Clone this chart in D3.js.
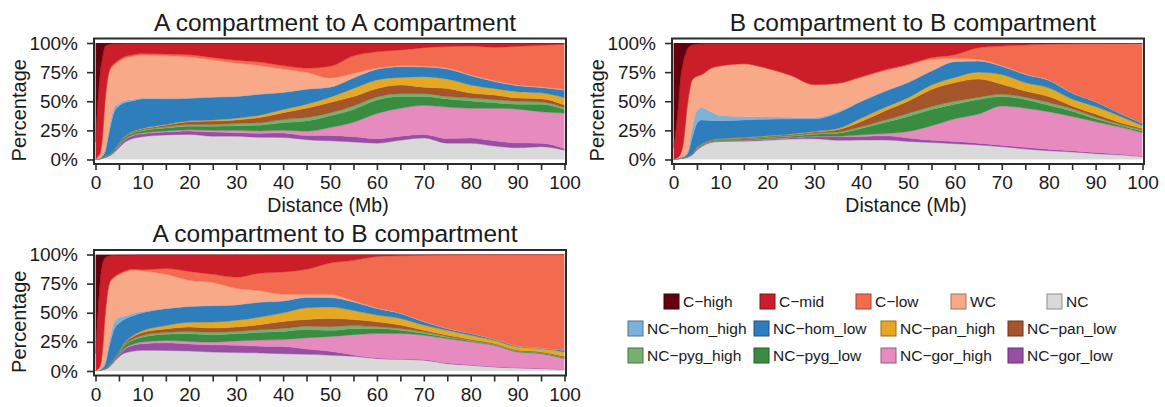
<!DOCTYPE html>
<html>
<head>
<meta charset="utf-8">
<script src="https://cdn.jsdelivr.net/npm/d3@7"></script>
<style>
body { margin: 0; background: #fff; }
svg text { font-family: "Liberation Sans", Arial, sans-serif; fill: #1a1a1a; }
</style>
</head>
<body>
<script>
// ================================
// DATA (percent of pairs in each class)
// ================================

// distance grid (Mb)
var distance = [0, 0.5, 1, 1.5, 2, 3, 4, 5, 6, 8, 10, 15, 20, 25, 30, 35, 40, 45, 50, 55, 60, 65, 70, 75, 80, 85, 90, 95, 100];

// stacking order, bottom to top
var categories = ["NC", "NC-gor_low", "NC-gor_high", "NC-pyg_low", "NC-pyg_high", "NC-pan_low",
    "NC-pan_high", "NC-hom_low", "NC-hom_high", "WC", "C-low", "C-mid", "C-high"];

var colors = ["#d9d9d9", "#984ea3", "#e68ac0", "#3a8d40", "#74b06f", "#a5552a",
    "#e5a823", "#2f7ebc", "#7cb1d9", "#f7a988", "#f26b4f", "#cb1e28", "#67000d"];

// legend layout order
var legendRows = [
    ["C-high", "C-mid", "C-low", "WC", "NC"],
    ["NC-hom_high", "NC-hom_low", "NC-pan_high", "NC-pan_low"],
    ["NC-pyg_high", "NC-pyg_low", "NC-gor_high", "NC-gor_low"]
];

// A compartment to A compartment (one row per category, same order as categories)
var aToA = [
    [0,.3,.5,1,1.5,3,6,10,14,18,19.5,21,21.5,20,20,19,18.8,17,16,15,14,16.5,18.5,14,14,11.6,10,11,8],
    [0,0,0,.2,.3,.5,1,1.5,2,2.5,2.5,2.5,3,3.5,3,3.5,3.9,3.5,4.5,4.5,3.8,3.5,3,4,4.5,4.4,4.2,3,1.3],
    [0,0,0,.1,.2,.2,.3,.5,.5,.7,.8,1,1,1.5,2,2,2.3,3.8,7,12.5,21.7,24,25,27,25.5,28,29,27,30.7],
    [0,0,0,.1,.3,.3,.7,1,1.5,1.5,1.8,2.5,3,3.5,4,5,6.7,8.7,10,11,11.5,10,7.5,7,6.3,4.8,4.3,6.5,3],
    [0,0,0,.1,.2,.2,.3,.5,.5,.7,.8,1,1.5,1.5,2,2,2.7,3,2.5,3,2.7,2.5,2.5,2,2.4,2.5,2.5,1.9,1.7],
    [0,0,0,0,.1,.1,.2,.3,.5,.6,.8,1.5,2.5,3,3,4.5,5.8,8,9,8,7.3,7.5,5.5,7,4.3,4,2.7,2.8,2],
    [0,0,0,0,.1,.1,.1,.2,.2,.3,.5,.5,.7,1,1.5,2,2.8,3.5,4.5,7,7.3,6.5,9,8,7,5.7,5.5,5,6.3],
    [0,.2,.5,1.5,3.3,20.6,32.4,32,29.3,26.2,25.3,22,19.3,19.5,18.5,18,14.5,12.8,8.5,9,9.2,9.2,8.5,8.7,8,6,5.1,4.6,6.5],
    [0,0,.5,1,2,4,4,2,2,1,.7,.5,.3,.3,.3,.3,.3,.3,.3,.2,.2,.2,.2,.2,.3,.3,.3,.2,.2],
    [0,1.5,3.5,16,40,47,36,36,36,37,36.8,36.5,35.2,31.8,28.5,24.4,19.9,14.2,7.7,3.8,.8,.6,.6,.6,.5,.5,.4,.5,.5],
    [0,.5,1,1,1,1,1.5,1.5,1.5,1.5,1.5,1.5,2,2,2.5,3,2.9,3.6,10,15,14,13.5,15.7,18.5,24.7,28.5,33.2,35.5,38.8],
    [15,47.5,69,67,48,22,17,14,11.7,9.8,9,9.5,10,12.4,14.7,16.3,19.4,21.6,20,11,7.5,6,4,3,2.5,3.7,2.8,2,1],
    [85,50,25,12,3,1,.5,.5,.3,.2,0,0,0,0,0,0,0,0,0,0,0,0,0,0,0,0,0,0,0]
];

// B compartment to B compartment
var bToB = [
    [0,.3,.5,.8,1,2,4,8,11,14.5,15.5,15.7,16.5,17.5,17.8,16.5,17,17,15.5,14.5,13.5,12.5,11,9,7.5,6.5,5,4,2.5],
    [0,0,0,.1,.1,.2,.3,.5,.6,.5,.5,.7,.9,1,1.7,3,3,3.5,3,2,2,1.5,1.3,1.5,1.3,1,1,.8,.5],
    [0,0,0,0,.1,.1,.2,.2,.2,.2,.2,.2,.3,.3,.5,.5,1.5,2,5.5,12.5,19.5,25,33.7,33.5,32.2,29.5,26.5,23.2,20],
    [0,0,0,0,.1,.1,.3,.8,.7,.6,.6,.9,1.1,1.2,1.7,2.5,5.5,9.5,13,14,12.5,12.5,8,7.5,5.5,4.5,2.5,1.5,1.5],
    [0,0,0,0,0,.1,.1,.5,.4,.4,.4,.5,.5,.6,.8,1,1.5,2,2.5,2.5,2.5,2,2,2,2.5,2,1.5,1,1],
    [0,0,0,0,0,0,.05,.2,.2,.3,.3,.5,.7,.8,1,2,4.5,8,10.5,14.5,16,15.5,8.5,5.2,5,2.5,2.5,1.5,1],
    [0,0,0,.1,0,0,.05,.2,.2,.3,.2,.3,.4,.5,.5,1,3,3,3,4,4.5,6,8.5,7.3,7.5,6,6.5,5.5,2.5],
    [0,.2,.5,.5,.7,2.5,14,20.6,20.7,16.7,15.6,15.2,14.1,12.9,10.8,13.5,14.5,14,13,12,13.5,9.5,7,7,6.5,5,4,2.5,2],
    [0,0,.2,.5,.5,1.5,8.6,11,10.5,7.5,4.3,2.8,2,1.5,1.2,1,.5,.3,.3,.2,.2,.2,.2,.2,.2,.2,.2,.1,.1],
    [0,.5,.8,3,9.5,41.5,40.4,29,28,37,42.4,45.2,41.5,35.7,28,24,20.5,17.7,14.7,9.8,2.8,1.3,.6,.4,.3,.2,.1,.1,.1],
    [0,0,0,0,.2,.5,.5,.5,.5,.5,.5,.3,.4,.4,.4,.5,.6,.8,.7,1.5,3,10,16.6,24.7,30.5,41.9,49.7,59.4,68.5],
    [10,24,43,65,69.8,46.5,30,27.5,26.5,21.3,19.5,17.7,21.6,27.6,35.6,34.5,29.4,23.2,18.3,12.5,10,4,2.6,1.7,1,.7,.5,.4,.3],
    [90,75,55,30,18,5,1.5,1,.5,.2,0,0,0,0,0,0,0,0,0,0,0,0,0,0,0,0,0,0,0]
];

// A compartment to B compartment
var aToB = [
    [0,.3,.5,1,1.5,3.5,8,12,15,17,17.7,17.6,17.2,16.2,15.8,15.5,14.8,14.3,13.6,12.6,10.6,10,9.2,6.3,4.9,3.4,2.6,2,1.4],
    [0,0,0,.2,.3,.5,1,1.5,3,5,5.7,6.6,6,6.3,6.2,5.8,6.2,4.5,3.4,1.2,.6,.6,.6,.5,.4,.4,.3,.3,.2],
    [0,0,0,0,.1,.2,.3,.5,.7,1,1.4,2,2.2,2.3,3.8,5.2,6,9.7,12.6,17.4,21,21.6,20.9,21.1,19.7,18.3,13.5,12.6,9],
    [0,0,0,.1,.1,.4,.7,1,2.3,3.5,4.2,5.4,6.6,6.2,6.2,6.8,7,7.1,5.3,5.1,4.3,2.8,1.5,1.1,.8,.6,.6,.6,.8],
    [0,0,0,0,0,.2,.4,.5,.8,1,1.5,1.6,2,2.3,2,2,2.5,2.9,3.1,2.7,1.5,1.5,1.4,.8,.6,.4,.4,.4,.4],
    [0,0,0,0,0,.2,.4,.5,1.2,2,2.5,2.8,3.7,3.5,3.7,4.4,6,5.7,7,5.2,4.2,2.9,1.4,.9,.7,.5,.4,.5,.8],
    [0,0,0,0,0,.1,.2,.3,.5,1,1.5,3,4.1,5.2,5.8,6.6,7.5,10.1,10,7.8,5.8,5.7,4.4,4.3,3.6,2.8,2.9,2.9,3.8],
    [0,.2,.3,1.2,3,16.9,25,24.7,20.5,17,15.5,14.5,13.6,14,13.2,12.7,10,8.9,8,7.3,5.7,4.3,2.8,1.5,1.5,.9,.8,.5,1.4],
    [0,0,.2,1,2,5,6,5,3,2,1,.3,.2,.2,.2,.3,.3,.2,.2,.2,.2,.2,.2,.1,.1,.1,.1,.1,.1],
    [0,1,3,14.5,38,48,38,36.5,37.5,37,35,29.2,22.4,19.8,14.1,9.7,5.5,2.4,2.6,.7,.3,.2,.2,.1,.1,.1,.1,.1,.1],
    [0,.2,.5,1,1,1,1,1,1,1,1,5,7.5,7,9.5,15,19.2,21.5,26.9,34.8,44.1,49.2,56.8,63.3,67.4,72.3,78.2,79.9,81.9],
    [15,48.3,73.5,73,51,23,18.3,16,14.1,12.3,13,12,14.5,17,19.5,16,15,12.7,7.3,5,1.7,1,.6,.3,.2,.2,.1,.1,.1],
    [85,50,22,8,3,1,.7,.5,.4,.2,0,0,0,0,0,0,0,0,0,0,0,0,0,0,0,0,0,0,0]
];

var yTicks = [0, 25, 50, 75, 100];
var xTicks = d3.range(0, 101, 5);

// ================================
// DRAW
// ================================
var width = 1165,
    height = 407;

var svg = d3.select("body")
    .append("svg")
    .attr("width", width)
    .attr("height", height);

var panels = [
    {title: "A compartment to A compartment", series: aToA, left: 94, right: 566, top: 38.5, bottom: 164, xTitle: true},
    {title: "B compartment to B compartment", series: bToB, left: 672, right: 1144, top: 38.5, bottom: 164, xTitle: true},
    {title: "A compartment to B compartment", series: aToB, left: 94, right: 566, top: 250, bottom: 375.5, xTitle: false}
];

var color = d3.scaleOrdinal().domain(categories).range(colors);

panels.forEach(drawPanel);
drawLegend();

function drawPanel(p, k){

    // build table: one row per distance
    var table = distance.map(function(d, i){
        var row = {x: d};
        categories.forEach(function(c, j){ row[c] = p.series[j][i]; });
        return row;
    });

    var stack = d3.stack()
        .keys(categories)
        .offset(d3.stackOffsetExpand);

    var layers = stack(table);

    var pad = (p.bottom - p.top) * 0.036;

    var x = d3.scaleLinear()
        .domain([0, 100])
        .range([p.left + 1.5, p.right - 1.5]);

    var y = d3.scaleLinear()
        .domain([0, 100])
        .range([p.bottom - pad, p.top + pad]);

    var area = d3.area()
        .curve(d3.curveMonotoneX)
        .x(function(d){ return x(d.data.x); })
        .y0(function(d){ return y(d[0] * 100); })
        .y1(function(d){ return y(d[1] * 100); });

    var g = svg.append("g").attr("class", "panel");

    g.append("clipPath")
        .attr("id", "clip" + k)
        .append("rect")
        .attr("x", x(0)).attr("y", y(100))
        .attr("width", x(100) - x(0)).attr("height", y(0) - y(100));

    g.append("g")
        .attr("clip-path", "url(#clip" + k + ")")
        .selectAll("path")
        .data(layers)
        .enter()
        .append("path")
        .attr("d", area)
        .style("fill", function(d){ return color(d.key); })
        .style("stroke", function(d){ return color(d.key); })
        .style("stroke-width", 0.4);

    // frame
    g.append("rect")
        .attr("x", p.left).attr("y", p.top)
        .attr("width", p.right - p.left).attr("height", p.bottom - p.top)
        .style("fill", "none")
        .style("stroke", "#2b2b2b")
        .style("stroke-width", 2);

    // y axis
    var yAxis = d3.axisLeft(y)
        .tickValues(yTicks)
        .tickFormat(function(d){ return d + "%"; })
        .tickSize(7)
        .tickPadding(9);

    var ya = g.append("g")
        .attr("transform", "translate(" + p.left + ",0)")
        .call(yAxis);

    // x axis
    var xAxis = d3.axisBottom(x)
        .tickValues(xTicks)
        .tickFormat(function(d){ return d % 10 === 0 ? d : ""; })
        .tickSize(6)
        .tickPadding(6);

    var xa = g.append("g")
        .attr("transform", "translate(0," + p.bottom + ")")
        .call(xAxis);

    [ya, xa].forEach(function(a){
        a.select(".domain").remove();
        a.selectAll("line").style("stroke", "#2b2b2b").style("stroke-width", 1.6);
        a.selectAll("text")
            .style("font-size", "19px")
            .style("font-family", "'Liberation Sans', Arial, sans-serif")
            .style("fill", "#1a1a1a");
    });

    // titles
    var cx = (p.left + p.right) / 2;

    g.append("text")
        .attr("x", cx + 5)
        .attr("y", p.top - 8)
        .attr("text-anchor", "middle")
        .style("font-size", "24.5px")
        .text(p.title);

    g.append("text")
        .attr("transform", "translate(" + (p.left - 68) + "," + ((p.top + p.bottom) / 2 + 9) + ") rotate(-90)")
        .attr("text-anchor", "middle")
        .style("font-size", "20px")
        .text("Percentage");

    if (p.xTitle){
        g.append("text")
            .attr("x", cx - 2)
            .attr("y", p.bottom + 47.5)
            .attr("text-anchor", "middle")
            .style("font-size", "19.5px")
            .text("Distance (Mb)");
    }
}

// ================================
// LEGEND
// ================================
function drawLegend(){

    var rowY = [301.5, 328.5, 355.5];
    var colX = [
        [664, 760, 856, 951, 1047],
        [628, 754, 881, 1008],
        [628, 754, 881, 1008]
    ];
    var box = 15;

    var lg = svg.append("g").attr("class", "legend");

    legendRows.forEach(function(row, r){
        row.forEach(function(name, c){
            var fill = color(name);
            lg.append("rect")
                .attr("x", colX[r][c])
                .attr("y", rowY[r] - box / 2)
                .attr("width", box)
                .attr("height", box)
                .style("fill", fill)
                .style("stroke", d3.color(fill).darker(1.2))
                .style("stroke-width", 1);

            lg.append("text")
                .attr("x", colX[r][c] + box + 4)
                .attr("y", rowY[r] + 5.5)
                .style("font-size", "15.5px")
                .text(name.replace(/-/g, "\u2212"));
        });
    });
}
</script>
</body>
</html>
